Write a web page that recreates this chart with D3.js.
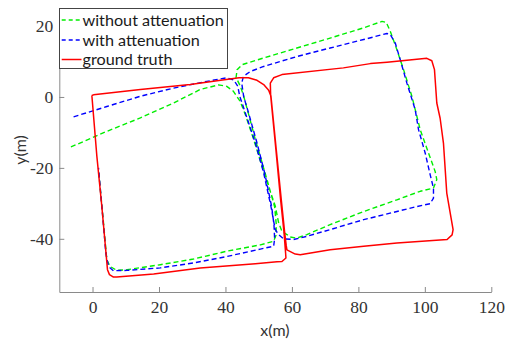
<!DOCTYPE html>
<html>
<head>
<meta charset="utf-8">
<script src="https://cdn.jsdelivr.net/npm/d3@7"></script>
<style>
  html, body { margin: 0; padding: 0; background: #fff; }
  svg { display: block; }
  .ticklbl { font-family: "Liberation Serif", "Times New Roman", serif !important; font-size: 17.5px !important; }
</style>
</head>
<body>
<svg id="chart" width="510" height="343"></svg>
<script>
// ---- data (x, y in metres) ----
const xTicks = [0, 20, 40, 60, 80, 100, 120];
const yTicks = [-40, -20, 0, 20];
const seriesNames = ["without attenuation", "with attenuation", "ground truth"];

const groundTruth = [
  [-0.2,0.4],[0.3,0.6],[14.4,2.1],[29.4,3.5],[36.4,4.4],[44.1,5.4],[46.9,5.4],[49.5,4.7],[51.5,3.5],[53,1.9],[53.7,0.2],
  [55.3,-15],[56.8,-29],[57.8,-38],[58.3,-42],[58.5,-43.1],[61,-44.3],[62.5,-44.5],[71.5,-43.1],[81.6,-42.1],[91.6,-41.2],
  [106.7,-40.2],[108.2,-38.9],[108.5,-37.4],[106.6,-27.1],[105.6,-13],[104.6,-6],[103.6,-1.7],[103.1,5],[102.9,7.7],
  [102.1,10.2],[100.6,10.9],[88.6,9.8],[83.6,9.4],[75.5,8.2],[57,6.3],[54.5,5.4],[53.5,3.9],[53.6,0.5],[55.2,-15],
  [56.6,-29],[57.6,-38],[58.1,-44],[58.2,-45.4],[57,-46.4],[55.5,-46.5],[49,-47],[32.4,-48.2],[18.4,-49.9],[7.3,-50.8],
  [6.3,-50.8],[5.1,-50.1],[4.5,-48.7],[2.8,-30.9],[1.3,-16.7],[-0.2,0.4]
];

const withoutAttenuation = [
  [-6.5,-14.1],[4.3,-9.7],[14.4,-5.9],[24.4,-1.7],[32.4,2.1],[37.9,3.4],[40.4,3],[42.4,1.6],[44.4,-1.2],[46,-5],
  [48.5,-12],[52,-22.5],[55,-30.8],[56,-35.5],[57,-37.9],[58.5,-38.8],[59.5,-39.5],[61.5,-39.8],[64.5,-38.8],[71.5,-36],
  [81.6,-32.3],[91.6,-29],[98.6,-26.6],[102.6,-25.7],[103.6,-23.3],[103.1,-21],[101.1,-15.8],[98.6,-9.2],[96.1,0.2],
  [93.6,7.7],[91.6,13.3],[89.6,18.5],[88.4,21],[87.1,21.3],[81.6,19.5],[71.5,16.6],[61.5,13.8],[51.5,11],[45,9.1],
  [43.5,7.7],[43.2,5.5],[44.5,3],[45.5,0.2],[47,-5],[49,-12],[52.5,-23.3],[54.8,-31],[55.3,-36],[55.2,-39],[54.5,-40.7],
  [50.5,-41.7],[40.4,-43.5],[30.4,-45.7],[20.4,-47.3],[10.4,-48.7],[7.3,-48.9],[5.3,-47.8],[4.3,-45.9],[3.3,-35.5],[1.8,-20.5]
];

const withAttenuation = [
  [-5.7,-5.6],[4.3,-2.7],[14.4,0.2],[24.4,2.5],[34.4,4.4],[40.4,5.4],[42.5,4.8],[43.7,3],[44.3,0.2],[45.8,-4],
  [49,-13],[51.5,-21.4],[53.7,-30.9],[54.5,-35],[55,-37.4],[56,-38.8],[57.5,-40],[60.5,-40.2],[64.5,-39.3],[71.5,-37.4],
  [81.6,-34.6],[91.6,-32.3],[97.6,-30.9],[101.6,-30.1],[102.6,-28.5],[102.6,-25.7],[101.6,-21.9],[100.1,-15.8],[98.1,-9.2],
  [97.1,-3.6],[94.6,3.9],[92.6,10.5],[91.1,15.2],[89.6,17.6],[88.6,17.9],[81.6,16.2],[71.5,13.8],[61.5,11.4],[51.5,8.6],
  [47.5,7.2],[45.4,5.8],[44.9,3.9],[45.5,0],[46.8,-4],[49.5,-13],[51.8,-21.4],[53.9,-30.9],[54.6,-36],[54.8,-40],[54.5,-42.1],
  [50.5,-42.9],[40.4,-45],[30.4,-46.8],[20.4,-48.2],[10.4,-48.9],[6.3,-49],[4.8,-47.8],[4,-44],[3,-33],[1.8,-20]
];

// ---- layout ----
const svg = d3.select("#chart");
const plot = { left: 59.3, right: 491.3, top: 8.3, bottom: 292 };
const x = d3.scaleLinear().domain([-10, 120]).range([plot.left, plot.right]);
const y = d3.scaleLinear().domain([-55, 25]).range([plot.bottom, plot.top]);

const axisColor = "#8a8a8a";
const textColor = "#333";
const serif = "'Liberation Serif', 'Times New Roman', serif";
const sans = "Lato, 'Open Sans', sans-serif";

// axes
const gx = svg.append("g").attr("transform", `translate(0,${plot.bottom})`)
  .call(d3.axisBottom(x).tickValues(xTicks).tickSizeInner(-5).tickSizeOuter(0).tickPadding(9).tickFormat(d => String(d)));
const gy = svg.append("g").attr("transform", `translate(${plot.left},0)`)
  .call(d3.axisLeft(y).tickValues(yTicks).tickSizeInner(-5).tickSizeOuter(0).tickPadding(6).tickFormat(d => String(d)));
[gx, gy].forEach(g => {
  g.attr("font-family", serif).attr("font-size", 17.5);
  g.selectAll("path.domain").attr("stroke", axisColor).attr("stroke-width", 1);
  g.selectAll(".tick line").attr("stroke", axisColor).attr("stroke-width", 1);
  g.selectAll(".tick text").attr("fill", textColor).attr("class", "ticklbl")
    .attr("font-family", serif).attr("font-size", 17.5);
});

// axis labels
svg.append("text").attr("x", 275).attr("y", 336).attr("text-anchor", "middle")
  .style("font-family", sans).style("font-size", "16px").attr("fill", textColor).text("x(m)");
svg.append("text").attr("transform", "translate(26,150) rotate(-90)").attr("text-anchor", "middle")
  .style("font-family", sans).style("font-size", "16px").attr("fill", textColor).text("y(m)");

// lines
const line = d3.line().x(d => x(d[0])).y(d => y(d[1]));
const series = [
  { data: withoutAttenuation, color: "#00ee00", dash: "5,3", width: 1.4 },
  { data: withAttenuation, color: "#0000ff", dash: "5,3", width: 1.4 },
  { data: groundTruth, color: "#ff0000", dash: null, width: 1.5 }
];
series.forEach(s => {
  svg.append("path").datum(s.data).attr("d", line)
    .attr("fill", "none").attr("stroke", s.color).attr("stroke-width", s.width)
    .attr("stroke-linejoin", "round")
    .attr("stroke-dasharray", s.dash);
});

// legend
const lg = svg.append("g");
lg.append("rect").attr("x", 59.5).attr("y", 8.5).attr("width", 168).attr("height", 60)
  .attr("fill", "#fff").attr("stroke", "#444").attr("stroke-width", 1);
const rowY = [20, 40, 59.5];
series.forEach((s, i) => {
  lg.append("line").attr("x1", 61.7).attr("x2", 81.5).attr("y1", rowY[i]).attr("y2", rowY[i])
    .attr("stroke", s.color).attr("stroke-width", s.width).attr("stroke-dasharray", s.dash === null ? null : "4,3");
  lg.append("text").attr("x", 82.5).attr("y", rowY[i] + 5.5)
    .style("font-family", sans).style("font-size", "16.2px").attr("fill", "#1a1a1a").text(seriesNames[i]);
});
</script>
</body>
</html>
